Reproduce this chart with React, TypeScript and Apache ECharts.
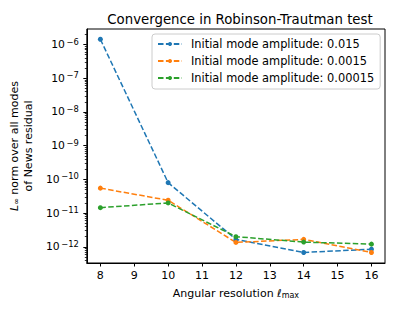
import React, { useEffect, useRef } from "react";
import * as echarts from "echarts";

const xValues = [8, 10, 12, 14, 16];
const seriesNames = [
  "Initial mode amplitude: 0.015",
  "Initial mode amplitude: 0.0015",
  "Initial mode amplitude: 0.00015",
];
const amp015 = [1.43e-6, 8.0e-11, 1.66e-12, 6.8e-13, 8.5e-13];
const amp0015 = [5.5e-11, 2.4e-11, 1.35e-12, 1.66e-12, 6.8e-13];
const amp00015 = [1.45e-11, 2.0e-11, 2.0e-12, 1.38e-12, 1.2e-12];
const colors = ["#1f77b4", "#ff7f0e", "#2ca02c"];
const xTicks = [8, 9, 10, 11, 12, 13, 14, 15, 16];
const yDecades = [-12, -11, -10, -9, -8, -7, -6];

const FONT = "DejaVu Sans";

export default function App() {
  const ref = useRef<HTMLDivElement>(null);
  useEffect(() => {
    if (!ref.current) return;
    const chart = echarts.init(ref.current, null, { renderer: "svg" });
    const yMin = -12.48;
    const yMax = -5.54;
    const minor: number[] = [];
    for (let n = -13; n <= -6; n++) {
      for (let k = 2; k <= 9; k++) {
        const v = n + Math.log10(k);
        if (v > yMin && v < yMax) minor.push(v);
      }
    }
    const all = [amp015, amp0015, amp00015];
    const series = all.map((vals, i) => ({
      name: seriesNames[i],
      type: "line",
      data: vals.map((v, j) => [xValues[j], Math.log10(v)]),
      symbol: "circle",
      symbolSize: 5,
      color: colors[i],
      lineStyle: { color: colors[i], width: 1.5, type: [5.5, 2.4] },
      itemStyle: { color: colors[i] },
    }));
    chart.setOption({
      animation: false,
      textStyle: { fontFamily: FONT },
      title: {
        text: "Convergence in Robinson-Trautman test",
        left: 235,
        top: 8,
        textAlign: "center",
        textStyle: { fontFamily: FONT, fontSize: 13.3, fontWeight: "normal", color: "#000" },
      },
      legend: {
        orient: "vertical",
        left: 152,
        top: 34,
        padding: [3, 6, 4, 5],
        itemGap: 3,
        itemWidth: 24,
        itemHeight: 5,
        backgroundColor: "rgba(255,255,255,0.8)",
        borderColor: "#cccccc",
        borderWidth: 1,
        borderRadius: 3,
        textStyle: { fontFamily: FONT, fontSize: 11.4, color: "#000", padding: [0, 0, 0, 4], lineHeight: 14 },
        data: seriesNames,
      },
      grid: {
        left: 84,
        right: 13,
        top: 29,
        bottom: 52,
        show: true,
        borderColor: "#000",
        borderWidth: 1,
        backgroundColor: "transparent",
      },
      xAxis: {
        type: "value",
        min: 7.6,
        max: 16.4,
        name: "Angular resolution {it|ℓ}{sub|max}",
        nameLocation: "middle",
        nameGap: 24,
        nameTextStyle: {
          fontFamily: FONT,
          fontSize: 11,
          color: "#000",
          rich: {
            it: { fontFamily: FONT, fontSize: 11, fontStyle: "italic", color: "#000" },
            sub: { fontFamily: FONT, fontSize: 8, color: "#000", verticalAlign: "bottom", padding: [4, 0, 0, 0] },
          },
        },
        axisLine: { show: true, lineStyle: { color: "#000", width: 1 } },
        axisTick: { show: true, customValues: xTicks, length: 3.5, lineStyle: { color: "#000" } },
        axisLabel: {
          customValues: xTicks,
          fontFamily: FONT,
          fontSize: 11,
          color: "#000",
          margin: 7,
          formatter: (v: number) => String(v),
        },
        splitLine: { show: false },
      },
      yAxis: [
        {
          type: "value",
          min: yMin,
          max: yMax,
          name: "{it|L}{sub|∞} norm over all modes\nof News residual",
          nameLocation: "middle",
          nameGap: 47,
          nameRotate: 90,
          nameTextStyle: {
            fontFamily: FONT,
            fontSize: 11,
            color: "#000",
            lineHeight: 13.5,
            align: "center",
            rich: {
              it: { fontFamily: FONT, fontSize: 11, fontStyle: "italic", color: "#000" },
              sub: { fontFamily: FONT, fontSize: 8, color: "#000", padding: [4, 0, 0, 0] },
            },
          },
          axisLine: { show: true, lineStyle: { color: "#000", width: 1 } },
          axisTick: { show: true, customValues: yDecades, length: 3.5, lineStyle: { color: "#000" } },
          axisLabel: {
            customValues: yDecades,
            fontFamily: FONT,
            fontSize: 10.8,
            color: "#000",
            margin: 8,
            formatter: (v: number) => `10{sup|−${Math.round(-v)}}`,
            rich: {
              sup: { fontFamily: FONT, fontSize: 8.4, color: "#000", verticalAlign: "top", padding: [0, 0, 6, 1.5] },
            },
          },
          splitLine: { show: false },
        },
        {
          type: "value",
          min: yMin,
          max: yMax,
          position: "left",
          axisLine: { show: false },
          axisTick: { show: true, customValues: minor, length: 2, lineStyle: { color: "#000", width: 0.8 } },
          axisLabel: { show: false },
          splitLine: { show: false },
        },
      ],
      series,
    });
    return () => chart.dispose();
  }, []);
  return (
    <div
      ref={ref}
      style={{ position: "fixed", left: 0, top: 0, width: 398, height: 315, background: "#fff" }}
    />
  );
}
